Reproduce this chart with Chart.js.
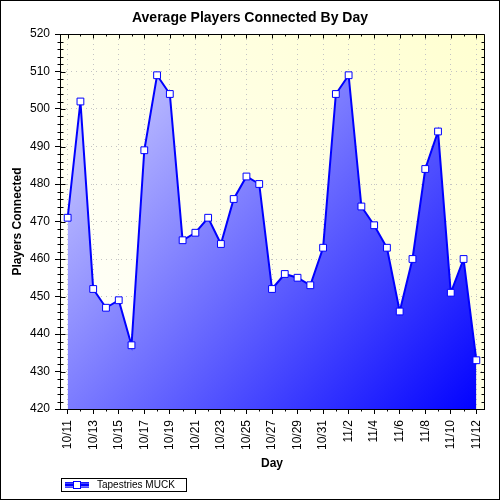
<!DOCTYPE html>
<html lang="en">
<head>
    <meta charset="UTF-8">
    <title>Average Players Connected By Day</title>
    <script src="https://cdn.jsdelivr.net/npm/chart.js"></script>
    <style>
        body { margin: 0; background: #fff; }
        canvas { display: block; }
    </style>
</head>
<body>
    <canvas id="playersChart" width="500" height="500"></canvas>

<script>
    // Chart data
    const days = ['10/11', '10/12', '10/13', '10/14', '10/15', '10/16', '10/17', '10/18', '10/19', '10/20',
                  '10/21', '10/22', '10/23', '10/24', '10/25', '10/26', '10/27', '10/28', '10/29', '10/30',
                  '10/31', '11/1', '11/2', '11/3', '11/4', '11/5', '11/6', '11/7', '11/8', '11/9',
                  '11/10', '11/11', '11/12'];
    const players = [471, 502, 452, 447, 449, 437, 489, 509, 504, 465,
                     467, 471, 464, 476, 482, 480, 452, 456, 455, 453,
                     463, 504, 509, 474, 469, 463, 446, 460, 484, 494,
                     451, 460, 433];
    const seriesName = 'Tapestries MUCK';
    const yMin = 420, yMax = 520, yStep = 10, yMinorStep = 2;

    const FONT = '"Liberation Sans", Arial, sans-serif';
    Chart.defaults.font.family = FONT;
    Chart.defaults.color = '#000';

    function line(ctx, x1, y1, x2, y2) {
        ctx.beginPath();
        ctx.moveTo(x1, y1);
        ctx.lineTo(x2, y2);
        ctx.stroke();
    }

    // background, frame, minor ticks and the legend box
    const decor = {
        id: 'decor',
        beforeDraw(chart) {
            const { ctx, chartArea: a } = chart;
            ctx.save();
            ctx.fillStyle = '#fff';
            ctx.fillRect(0, 0, chart.width, chart.height);
            const g = ctx.createLinearGradient(a.left, a.bottom, a.right, a.top);
            g.addColorStop(0, '#ffffff');
            g.addColorStop(1, '#ffffd0');
            ctx.fillStyle = g;
            ctx.fillRect(a.left, a.top, a.right - a.left, a.bottom - a.top);
            ctx.restore();
        },
        afterDraw(chart) {
            const { ctx, chartArea: a } = chart;
            const xs = chart.scales.x, ys = chart.scales.y;
            const L = Math.round(a.left) + 0.5, R = Math.round(a.right) + 0.5;
            const T = Math.round(a.top) + 0.5, B = Math.round(a.bottom) + 0.5;
            ctx.save();
            ctx.strokeStyle = '#000';
            ctx.lineWidth = 1;
            line(ctx, L, T, R, T);
            line(ctx, R, T, R, B);

            for (let i = 0; i < days.length; i++) {
                const px = Math.round(xs.getPixelForValue(i)) + 0.5;
                const major = i % 2 === 0;
                line(ctx, px, T, px, T + (major ? 4 : 2));
                if (!major) line(ctx, px, B, px, B + 2);
            }
            for (let v = yMin; v <= yMax; v += yMinorStep) {
                const py = Math.round(ys.getPixelForValue(v)) + 0.5;
                const major = v % yStep === 0;
                if (major) line(ctx, L, py, L + 5, py);
                else line(ctx, L - 3, py, L + 3, py);
                line(ctx, R - (major ? 4 : 3), py, R, py);
            }

            // legend
            ctx.strokeRect(61.5, 478.5, 125, 13);
            const lg = ctx.createLinearGradient(0, 482, 0, 489);
            lg.addColorStop(0, '#0000ff');
            lg.addColorStop(0.5, '#a0a0ff');
            lg.addColorStop(1, '#0000ff');
            ctx.fillStyle = lg;
            ctx.fillRect(65, 482, 24, 6);
            ctx.strokeStyle = '#0000ff';
            ctx.lineWidth = 2;
            line(ctx, 65, 485, 89, 485);
            ctx.lineWidth = 1;
            ctx.fillStyle = '#fff';
            ctx.fillRect(73.5, 481.5, 7, 7);
            ctx.strokeRect(73.5, 481.5, 7, 7);
            ctx.fillStyle = '#000';
            ctx.font = '10px ' + FONT;
            ctx.textBaseline = 'middle';
            ctx.textAlign = 'left';
            ctx.fillText(seriesName, 97, 485.5);

            // outer frame
            ctx.strokeStyle = '#000';
            ctx.strokeRect(0.5, 0.5, chart.width - 1, chart.height - 1);
            ctx.restore();
        }
    };

    function fillGradient(context) {
        const a = context.chart.chartArea;
        if (!a) return '#8080ff';
        const g = context.chart.ctx.createLinearGradient(a.left, a.top, a.right, a.bottom);
        g.addColorStop(0, '#e0e0ff');
        g.addColorStop(1, '#0000ff');
        return g;
    }

    const ctx = document.getElementById('playersChart').getContext('2d');
    new Chart(ctx, {
        type: 'line',
        data: {
            datasets: [{
                label: seriesName,
                data: players.map((v, i) => ({ x: i, y: v })),
                borderColor: '#0000ff',
                borderWidth: 2,
                tension: 0,
                fill: 'start',
                backgroundColor: fillGradient,
                pointStyle: 'rect',
                pointRadius: 4.8,
                pointBackgroundColor: '#fff',
                pointBorderColor: '#0000ff',
                pointBorderWidth: 1,
                yAxisID: 'y'
            }]
        },
        options: {
            responsive: false,
            animation: false,
            layout: { padding: { left: 0, right: 0, top: 0, bottom: 21 } },
            plugins: {
                legend: { display: false },
                tooltip: { enabled: false },
                title: {
                    display: true,
                    text: 'Average Players Connected By Day',
                    color: '#000',
                    font: { size: 14, weight: 'bold' },
                    padding: { top: 9.6, bottom: 7.6 }
                }
            },
            scales: {
                x: {
                    type: 'linear',
                    min: -0.6,
                    max: 32.6,
                    afterFit(scale) { scale.height = 70; },
                    ticks: {
                        stepSize: 2,
                        includeBounds: false,
                        autoSkip: false,
                        minRotation: 90,
                        maxRotation: 90,
                        padding: 6,
                        color: '#000',
                        font: { size: 12 },
                        callback: v => days[v]
                    },
                    grid: {
                        color: '#c4c4c4',
                        tickColor: '#000',
                        tickLength: 5
                    },
                    border: { color: '#000', width: 1, dash: [1, 4], z: 1 },
                    title: {
                        display: true,
                        text: 'Day',
                        color: '#000',
                        font: { size: 12, weight: 'bold' },
                        padding: { top: 4, bottom: 8.3 }
                    }
                },
                y: {
                    type: 'linear',
                    position: 'left',
                    min: yMin,
                    max: yMax,
                    afterFit(scale) { scale.width = 60; },
                    ticks: {
                        stepSize: yStep,
                        padding: 5,
                        color: '#000',
                        font: { size: 12 }
                    },
                    grid: {
                        color: '#c4c4c4',
                        tickColor: '#000',
                        tickLength: 5
                    },
                    border: { color: '#000', width: 1, dash: [1, 4], z: 1 },
                    title: {
                        display: true,
                        text: 'Players Connected',
                        color: '#000',
                        font: { size: 12, weight: 'bold' },
                        padding: { top: 10, bottom: 4 }
                    }
                },
                // empty right axis, only keeps the right margin
                y2: {
                    type: 'linear',
                    position: 'right',
                    afterFit(scale) { scale.width = 16; },
                    ticks: { display: false },
                    grid: { display: false },
                    border: { display: false }
                }
            }
        },
        plugins: [decor]
    });
</script>
</body>
</html>
